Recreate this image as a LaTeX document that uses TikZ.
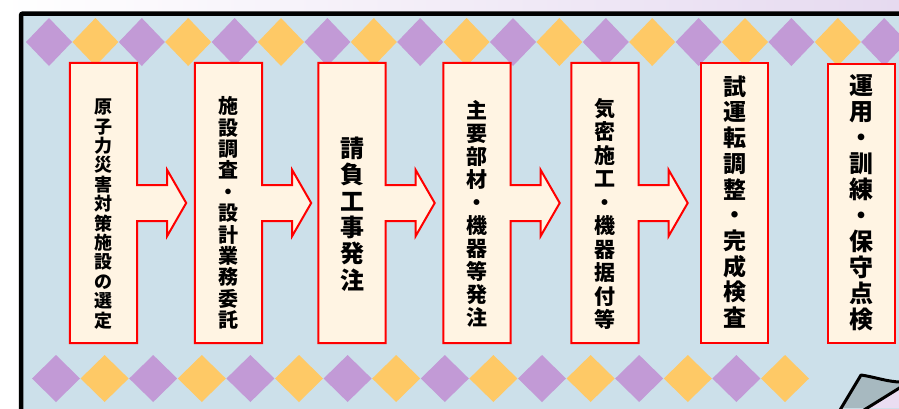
\documentclass[tikz,border=0pt]{standalone}
\usepackage{fontspec}
\newfontfamily\jp{Noto Sans CJK JP}
\usetikzlibrary{calc}
\pgfdeclarelayer{bg}
\pgfsetlayers{bg,main}
\definecolor{bgblue}{HTML}{CCE0EA}
\definecolor{dpurple}{HTML}{C29AD6}
\definecolor{dyellow}{HTML}{FEC966}
\definecolor{cream}{HTML}{FFF4E3}
\definecolor{lav}{HTML}{E6DAF0}
\definecolor{curlgrey}{HTML}{A7B9C0}
\definecolor{curllav}{HTML}{EADDF2}
\tikzset{
  boxframe/.style={draw=none,minimum width=67pt,minimum height=280pt,inner sep=0pt},
  boxtext/.style={align=center,inner sep=0pt,text=black},
  outline/.style={draw=red,line width=2pt,fill=cream,line join=miter},
  diam/.style={inner sep=0pt}
}
\newcommand\flowarrowbox[1]{%
  \path[outline] (#1.north west) -- (#1.north east) -- ($(#1.east)+(0,-18)$) -- ($(#1.east)+(30,-18)$) -- ($(#1.east)+(30,-33)$) -- ($(#1.east)+(49,0)$) -- ($(#1.east)+(30,33)$) -- ($(#1.east)+(30,18)$) -- ($(#1.east)+(0,18)$) -- (#1.south east) -- (#1.south west) -- cycle;}
\newcommand\flowplainbox[1]{%
  \path[outline] (#1.north west) rectangle (#1.south east);}
\begin{document}
\begin{tikzpicture}[x=1pt,y=-1pt]
\useasboundingbox (0,0) rectangle (899,408);
% box frames (invisible, for anchors)
\node[boxframe] (b1) at (103.5,203) {};
\node[boxframe] (b2) at (228.5,203) {};
\node[boxframe] (b3) at (352,203) {};
\node[boxframe] (b4) at (477,203) {};
\node[boxframe] (b5) at (605,203) {};
\node[boxframe] (b6) at (734.5,203) {};
\node[boxframe,minimum height=279pt] (b7) at (861.5,203.5) {};
% texts
\node[boxtext,font=\jp\bfseries\fontsize{18}{19.4}\selectfont] (t1) at ($(b1)+(0,11)$) {原\\子\\力\\災\\害\\対\\策\\施\\設\\の\\選\\定};
\node[boxtext,font=\jp\bfseries\fontsize{20}{21.4}\selectfont] (t2) at ($(b2)+(0,10)$) {施\\設\\調\\査\\・\\設\\計\\業\\務\\委\\託};
\node[boxtext,font=\jp\bfseries\fontsize{24}{26.4}\selectfont] (t3) at ($(b3)+(0,11)$) {請\\負\\工\\事\\発\\注};
\node[boxtext,font=\jp\bfseries\fontsize{21}{23}\selectfont] (t4) at ($(b4)+(0,11)$) {主\\要\\部\\材\\・\\機\\器\\等\\発\\注};
\node[boxtext,font=\jp\bfseries\fontsize{21}{23.5}\selectfont] (t5) at ($(b5)+(0,11)$) {気\\密\\施\\工\\・\\機\\器\\据\\付\\等};
\node[boxtext,font=\jp\bfseries\fontsize{23}{25.7}\selectfont] (t6) at ($(b6)+(0,-1)$) {試\\運\\転\\調\\整\\・\\完\\成\\検\\査};
\node[boxtext,font=\jp\bfseries\fontsize{24}{26}\selectfont] (t7) at ($(b7)+(0,-1)$) {運\\用\\・\\訓\\練\\・\\保\\守\\点\\検};
\begin{pgfonlayer}{bg}
  \shade[left color=white,right color=lav] (0,0) rectangle (899,408);
  \fill[bgblue] (21,13.5) rectangle (905,415);
  % top row of diamonds
  \foreach \k in {0,...,18} {
    \pgfmathsetmacro\cx{49+46.4*\k}
    \pgfmathtruncatemacro\odd{mod(\k,2)}
    \ifnum\odd=0 \def\dc{dpurple}\else\def\dc{dyellow}\fi
    \fill[\dc] (\cx-23,42) -- (\cx,18) -- (\cx+23,42) -- (\cx,66) -- cycle;
  }
  % bottom row of diamonds
  \foreach \k in {0,...,15} {
    \pgfmathsetmacro\cx{56+48.6*\k}
    \pgfmathtruncatemacro\odd{mod(\k,2)}
    \ifnum\odd=0 \def\dc{dpurple}\else\def\dc{dyellow}\fi
    \fill[\dc] (\cx-24,378.5) -- (\cx,355) -- (\cx+24,378.5) -- (\cx,402) -- cycle;
  }
  % frame
  \draw[line width=4.5pt,rounded corners=2pt] (910,13.5) -- (21,13.5) -- (21,420);
  % page curl at bottom right
  \fill[curllav] (866,408) -- (899,388) -- (899,408) -- cycle;
  \fill[curlgrey] (861,375) .. controls (875,377) and (888,382) .. (899,382) -- (899,388) -- (866,408) -- (840,408) -- cycle;
  \draw[line width=3pt,line join=round] (840,410) -- (861,375) .. controls (875,377) and (888,382) .. (901,382);
  \draw[line width=3pt] (864,410) -- (901,387);
  % boxes
  \flowarrowbox{b1}
  \flowarrowbox{b2}
  \flowarrowbox{b3}
  \flowarrowbox{b4}
  \flowarrowbox{b5}
  \flowplainbox{b6}
  \flowplainbox{b7}
\end{pgfonlayer}
\end{tikzpicture}
\end{document}
